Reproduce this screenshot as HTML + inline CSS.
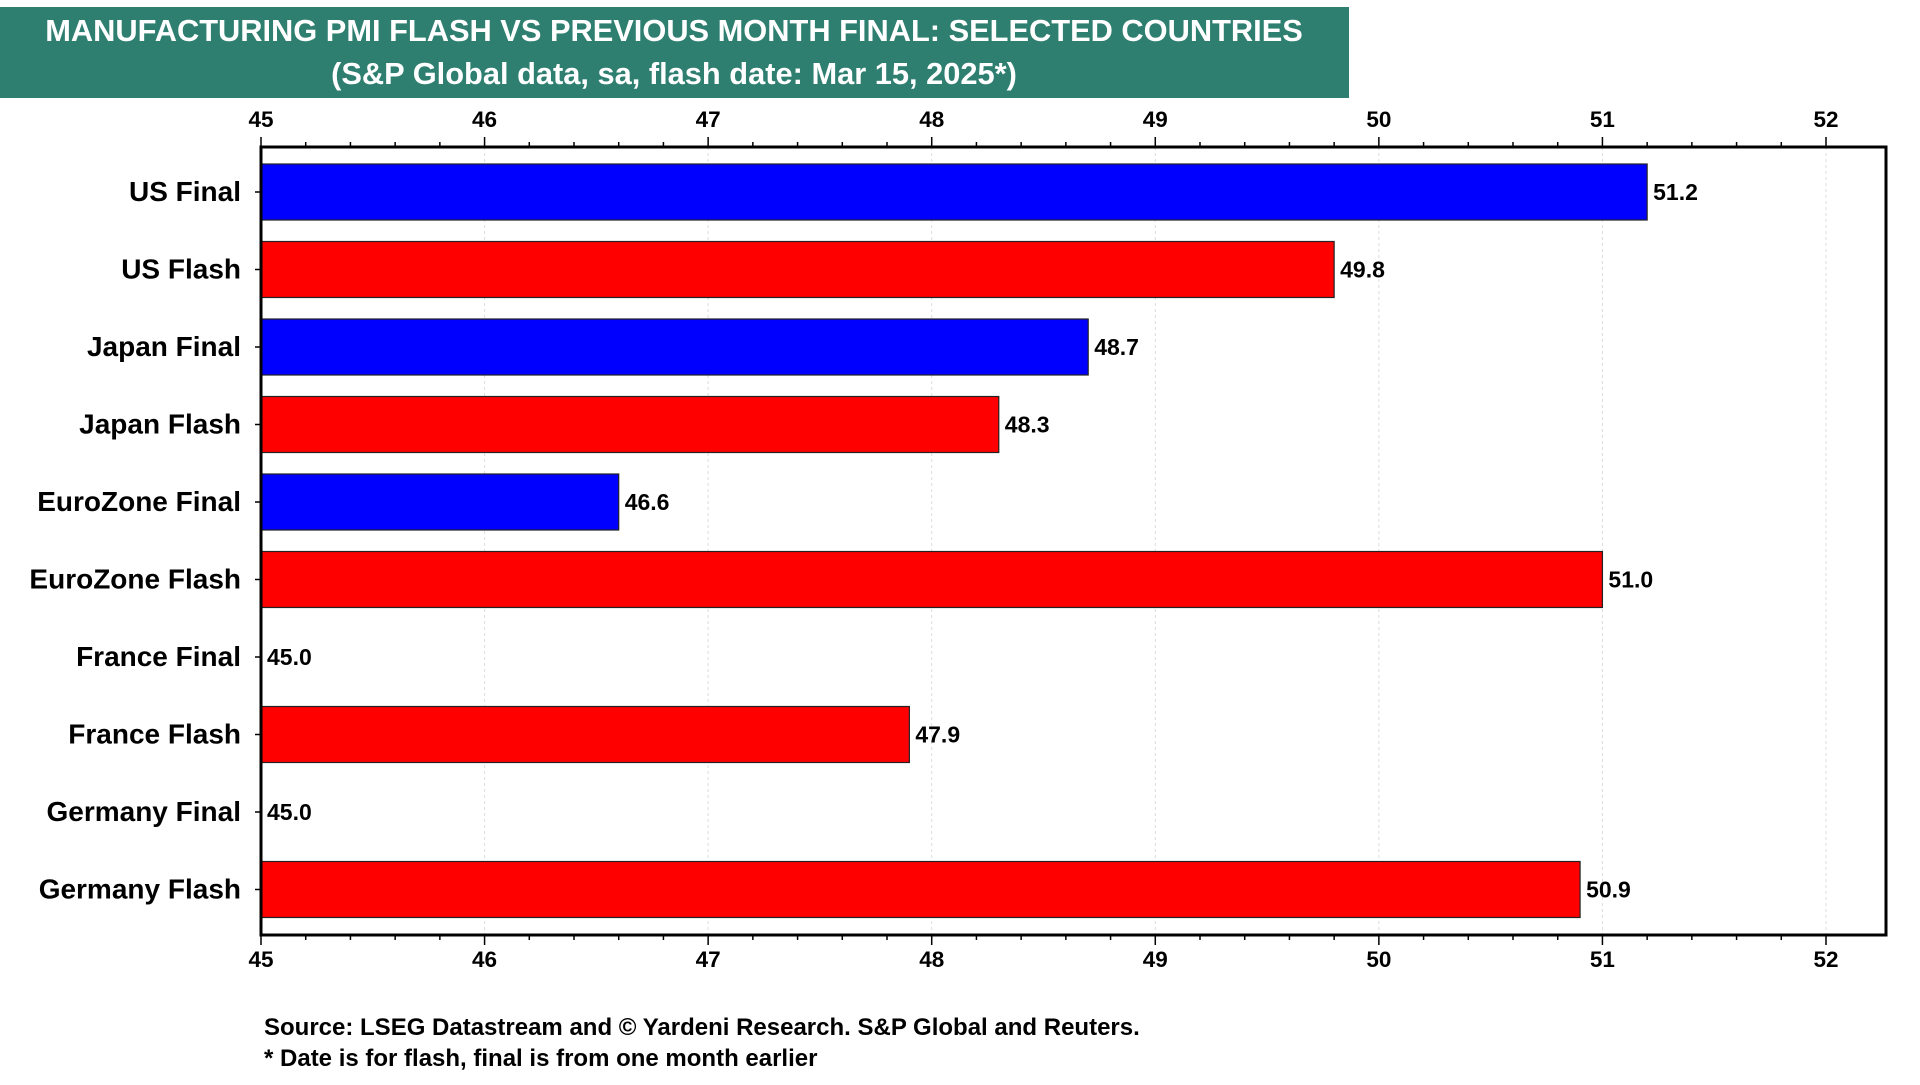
<!DOCTYPE html>
<html><head><meta charset="utf-8"><style>
body{margin:0;width:1920px;height:1080px;background:#fff;overflow:hidden;font-family:"Liberation Sans",Arial,sans-serif}
</style></head><body>
<svg width="1920" height="1080" xmlns="http://www.w3.org/2000/svg" font-family="Liberation Sans, Arial, sans-serif" font-weight="bold">
<rect x="0" y="7" width="1349" height="91" fill="#2e7f70"/>
<text x="674" y="41" fill="#fff" font-size="30.8" text-anchor="middle">MANUFACTURING PMI FLASH VS PREVIOUS MONTH FINAL: SELECTED COUNTRIES</text>
<text x="674" y="84" fill="#fff" font-size="30.8" text-anchor="middle">(S&amp;P Global data, sa, flash date: Mar 15, 2025*)</text>
<g id="plot"></g>
<text x="264" y="1035" font-size="24">Source: LSEG Datastream and © Yardeni Research. S&amp;P Global and Reuters.</text>
<text x="264" y="1066" font-size="24">* Date is for flash, final is from one month earlier</text>
</svg>
<script>
const categories=["US Final","US Flash","Japan Final","Japan Flash","EuroZone Final","EuroZone Flash","France Final","France Flash","Germany Final","Germany Flash"];
const values=[51.2,49.8,48.7,48.3,46.6,51.0,45.0,47.9,45.0,50.9];
const seriesType=["final","flash","final","flash","final","flash","final","flash","final","flash"];
const tickLabels=[45,46,47,48,49,50,51,52];
const NS="http://www.w3.org/2000/svg";
const g=document.getElementById('plot');
const L=261,R=1886,T=147,B=935,x0=45,x1=52,xEnd=1826;
function xs(v){return L+(v-x0)/(x1-x0)*(xEnd-L);}
function ys(i){return 192+i*77.5;}
function el(t,a,txt){const e=document.createElementNS(NS,t);for(const k in a)e.setAttribute(k,a[k]);if(txt!==undefined)e.textContent=txt;g.appendChild(e);return e;}
for(let v=x0;v<=x1+1e-9;v+=0.2){
  const x=xs(v);const major=Math.abs(v-Math.round(v))<1e-6;
  if(major){
    const gl=el('line',{x1:x,x2:x,y1:T,y2:B,stroke:'#ddd','stroke-dasharray':'3,3'});
    
    
  }
  el('line',{x1:x,x2:x,y1:T,y2:T-(major?10:5),stroke:'#000','stroke-width':1.5});
  el('line',{x1:x,x2:x,y1:B,y2:B+(major?10:5),stroke:'#000','stroke-width':1.5});
}
tickLabels.forEach(v=>{
  const a=el('text',{x:xs(v),y:127,'font-size':22.5,'text-anchor':'middle'},String(v));
  
  
  const b=el('text',{x:xs(v),y:967,'font-size':22.5,'text-anchor':'middle'},String(v));
  
  
});
categories.forEach((c,i)=>{
  const y=ys(i),v=values[i];
  const w=xs(v)-xs(x0);
  if(w>0){
    const r=el('rect',{x:xs(x0),y:y-28,width:w,height:56,fill:seriesType[i]==='final'?'#0000ff':'#ff0000',stroke:'#222','stroke-width':1.2});
    
    
  }
  el('line',{x1:L-6,x2:L,y1:y,y2:y,stroke:'#000','stroke-width':1.5});
  const lab=el('text',{x:241,y:y+9,'font-size':28,'text-anchor':'end'},c);
  
  
  const vl=el('text',{x:xs(v)+6,y:y+8,'font-size':23},v.toFixed(1));
  
  
});
const f=el('rect',{x:L,y:T,width:R-L,height:B-T,fill:'none',stroke:'#000','stroke-width':3});


</script>
</body></html>
